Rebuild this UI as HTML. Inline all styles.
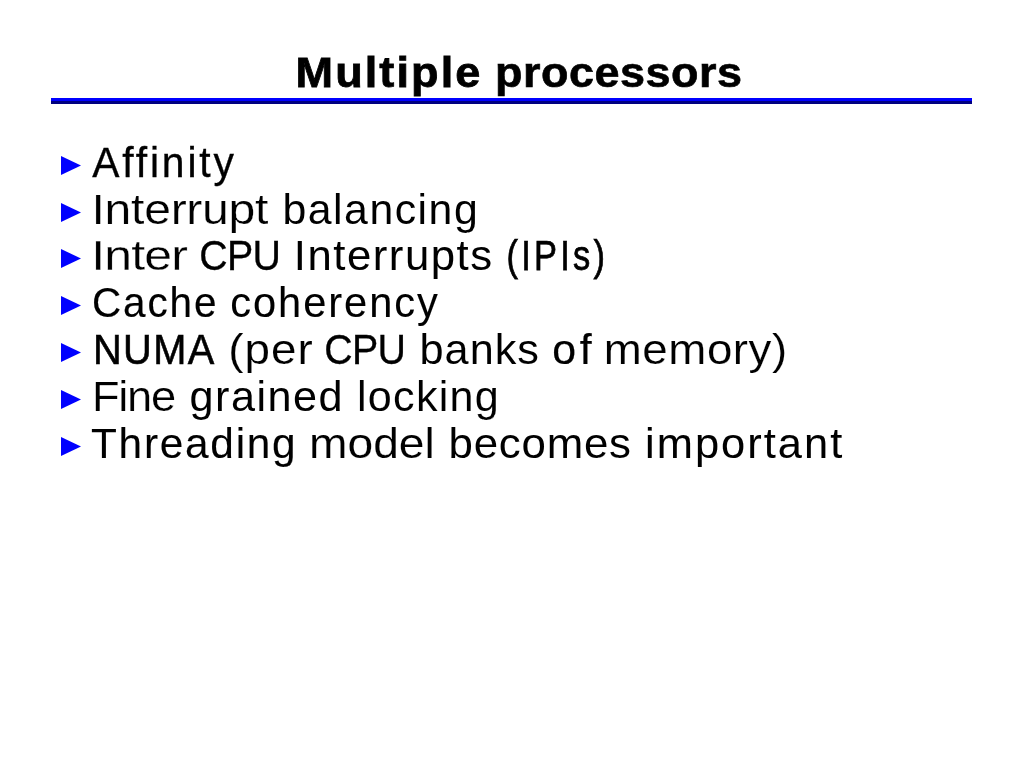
<!DOCTYPE html>
<html lang="en"><head><meta charset="utf-8"><title>Multiple processors</title>
<style>
html,body{margin:0;padding:0;background:#fff;width:1024px;height:768px;overflow:hidden}
.s{will-change:transform;position:absolute;left:0;top:0;width:1024px;height:768px;font-family:"Liberation Sans",sans-serif;color:#000}
.s span{position:absolute;left:0;top:0;display:block;white-space:pre;line-height:48px;transform-origin:0 0}
h1,ul,li{margin:0;padding:0;list-style:none;font-weight:normal;font-size:inherit}
h1 span{font-weight:bold;font-size:43.0px}
li span{font-size:42.8px}
.r1{position:absolute;left:51px;top:98px;width:921px;height:3px;background:#0000ff}
.r2{position:absolute;left:51px;top:101px;width:921px;height:3px;background:#000080}
svg{position:absolute;left:0;top:0}
</style></head><body><div class="s">
<h1><span style="letter-spacing:2px;-webkit-text-stroke:0.77px #000;transform:translate(295.5px,48px) scaleX(1.0478)">Multiple</span> <span style="letter-spacing:0.5px;-webkit-text-stroke:0.65px #000;transform:translate(495px,48px) scaleX(1.0456)">processors</span></h1>
<div class="r1"></div><div class="r2"></div>
<ul>
<li><span style="letter-spacing:3px;-webkit-text-stroke:0.33px #000;transform:translate(92.25px,138px) scaleX(0.9529)">Affinity</span></li>
<li><span style="letter-spacing:-0.25px;-webkit-text-stroke:0.24px #fff;transform:translate(91.5px,185px) scaleX(1.1242)">Interrupt</span> <span style="letter-spacing:1.5px;-webkit-text-stroke:0.01px #fff;transform:translate(282.5px,185px) scaleX(1.0000)">balancing</span></li>
<li><span style="letter-spacing:-0.75px;-webkit-text-stroke:0.27px #fff;transform:translate(91.25px,231px) scaleX(1.1704)">Inter</span> <span style="letter-spacing:-0.75px;-webkit-text-stroke:0.31px #000;transform:translate(199.25px,231px) scaleX(0.9194)">CPU</span> <span style="letter-spacing:1.5px;-webkit-text-stroke:0.04px #000;transform:translate(293.75px,231px) scaleX(1.0212)">Interrupts</span> <span style="letter-spacing:4px;-webkit-text-stroke:0.75px #000;transform:translate(506.5px,231px) scaleX(0.8047)">(IPIs)</span></li>
<li><span style="letter-spacing:2px;-webkit-text-stroke:0.18px #000;transform:translate(92px,278px) scaleX(0.9453)">Cache</span> <span style="letter-spacing:2px;-webkit-text-stroke:0.10px #000;transform:translate(230.25px,278px) scaleX(0.9728)">coherency</span></li>
<li><span style="letter-spacing:1.5px;-webkit-text-stroke:0.59px #000;transform:translate(93px,325px) scaleX(0.9294)">NUMA</span> <span style="letter-spacing:1px;-webkit-text-stroke:0.15px #fff;transform:translate(228.25px,325px) scaleX(1.0695)">(per</span> <span style="letter-spacing:-0.75px;-webkit-text-stroke:0.31px #000;transform:translate(324.25px,325px) scaleX(0.9194)">CPU</span> <span style="letter-spacing:1px;-webkit-text-stroke:0.03px #fff;transform:translate(419.5px,325px) scaleX(1.0110)">banks</span> <span style="letter-spacing:3.75px;-webkit-text-stroke:0.23px #000;transform:translate(552.25px,325px) scaleX(1.0000)">of</span> <span style="letter-spacing:0.5px;-webkit-text-stroke:0.17px #fff;transform:translate(603.75px,325px) scaleX(1.0678)">memory)</span></li>
<li><span style="letter-spacing:-1.25px;-webkit-text-stroke:0.24px #fff;transform:translate(92px,372px) scaleX(1.0576)">Fine</span> <span style="letter-spacing:1.5px;-webkit-text-stroke:0.01px #000;transform:translate(189.5px,372px) scaleX(1.0085)">grained</span> <span style="letter-spacing:1.25px;-webkit-text-stroke:0.06px #fff;transform:translate(357px,372px) scaleX(1.0074)">locking</span></li>
<li><span style="letter-spacing:1.75px;-webkit-text-stroke:0.10px #000;transform:translate(91px,419px) scaleX(0.9901)">Threading</span> <span style="-webkit-text-stroke:0.14px #fff;transform:translate(309px,419px) scaleX(1.0792)">model</span> <span style="letter-spacing:0.75px;-webkit-text-stroke:0.02px #fff;transform:translate(448.5px,419px) scaleX(1.0245)">becomes</span> <span style="letter-spacing:2px;-webkit-text-stroke:0.07px #000;transform:translate(645px,419px) scaleX(1.0149)">important</span></li>
</ul>
<svg width="1024" height="768" viewBox="0 0 1024 768"><g fill="#0000ff">
<path d="M61 156L81 165.5L61 175Z"/>
<path d="M61 203L81 212.5L61 222Z"/>
<path d="M61 249L81 258.5L61 268Z"/>
<path d="M61 296L81 305.5L61 315Z"/>
<path d="M61 343L81 352.5L61 362Z"/>
<path d="M61 390L81 399.5L61 409Z"/>
<path d="M61 437L81 446.5L61 456Z"/>
</g></svg>
</div></body></html>
